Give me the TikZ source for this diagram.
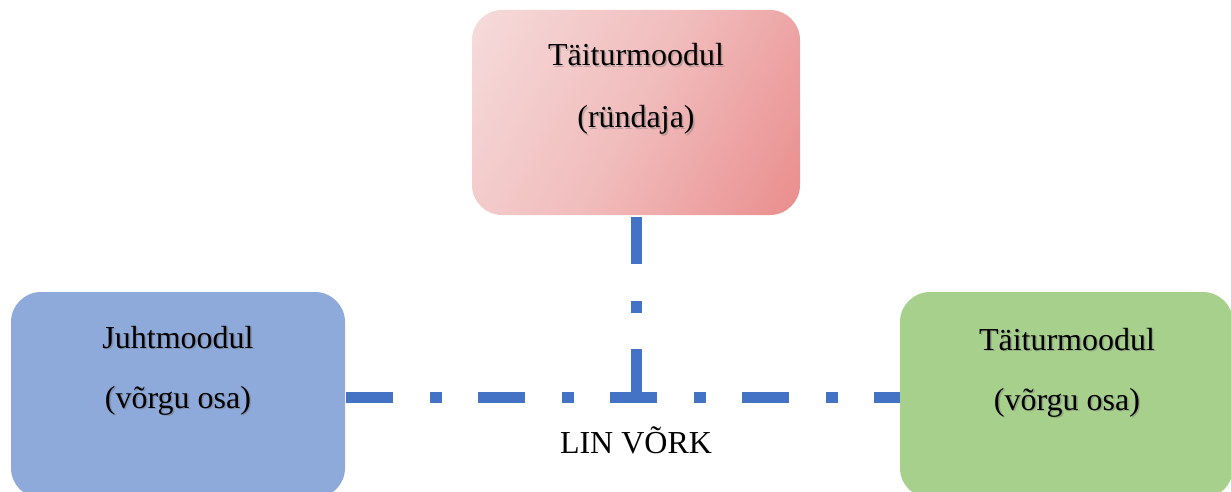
\documentclass[tikz,border=0pt]{standalone}
\usepackage{fontspec}
\setmainfont{Liberation Serif}
\usetikzlibrary{calc}
\definecolor{busblue}{HTML}{4472C4}
\definecolor{ctrlblue}{HTML}{8EAADB}
\definecolor{nodegreen}{HTML}{A8D08D}
\definecolor{atkLight}{RGB}{246,219,219}
\definecolor{atkMid}{RGB}{241,188,188}
\definecolor{atkDark}{RGB}{234,141,141}

% diagonal fill of the attacker module; the ramp reaches the box corners
\pgfdeclareverticalshading{atkshade}{100bp}{%
  color(0bp)=(atkDark); color(16bp)=(atkDark); color(50bp)=(atkMid);
  color(84bp)=(atkLight); color(100bp)=(atkLight)}

% label with a soft drop shadow: name, position, text
\newcommand\modtext[3]{%
  \node[txtshadow] (#1-sh) at ($#2+(1.6,1.6)$) {#3};
  \node[txt] (#1) at #2 {#3};}

\begin{document}
\begin{tikzpicture}[x=1pt,y=-1pt,
  module/.style={rounded corners=30pt, inner sep=0pt, draw=none},
  txt/.style={font=\fontsize{32}{38}\selectfont, inner sep=0pt, anchor=base},
  txtshadow/.style={txt, text=black!60, opacity=0.35},
  bus/.style={draw=busblue, line width=11pt,
    dash pattern=on 47pt off 36.5pt on 12pt off 36.5pt}]
\useasboundingbox (0,0) rectangle (1231,492);
\begin{scope}
\clip (0,0) rectangle (1231,492);

% modules
\node[module, minimum width=328pt, minimum height=205pt,
  shading=atkshade, shading angle=61] (attacker) at (636,112.5) {};
\node[module, minimum width=334pt, minimum height=206pt, fill=ctrlblue] (master) at (178,395) {};
\node[module, minimum width=333pt, minimum height=206pt, fill=nodegreen] (slave) at (1066.5,395) {};

% LIN bus
\coordinate (tee) at (636,397.5);
\draw[bus] ($(master.east)+(1,2.5)$) -- ($(slave.west)+(0,2.5)$);
\draw[bus] ($(attacker.south)+(0,2)$) -- (tee);

% texts
\modtext{a1}{(636,66)}{Täiturmoodul}
\modtext{a2}{(636,128)}{(ründaja)}
\modtext{m1}{(178,348)}{Juhtmoodul}
\modtext{m2}{(178,408)}{(võrgu osa)}
\modtext{s1}{(1067,350)}{Täiturmoodul}
\modtext{s2}{(1067,410)}{(võrgu osa)}
\node[txt] (bus-label) at (636,453) {LIN VÕRK};
\end{scope}
\end{tikzpicture}
\end{document}
